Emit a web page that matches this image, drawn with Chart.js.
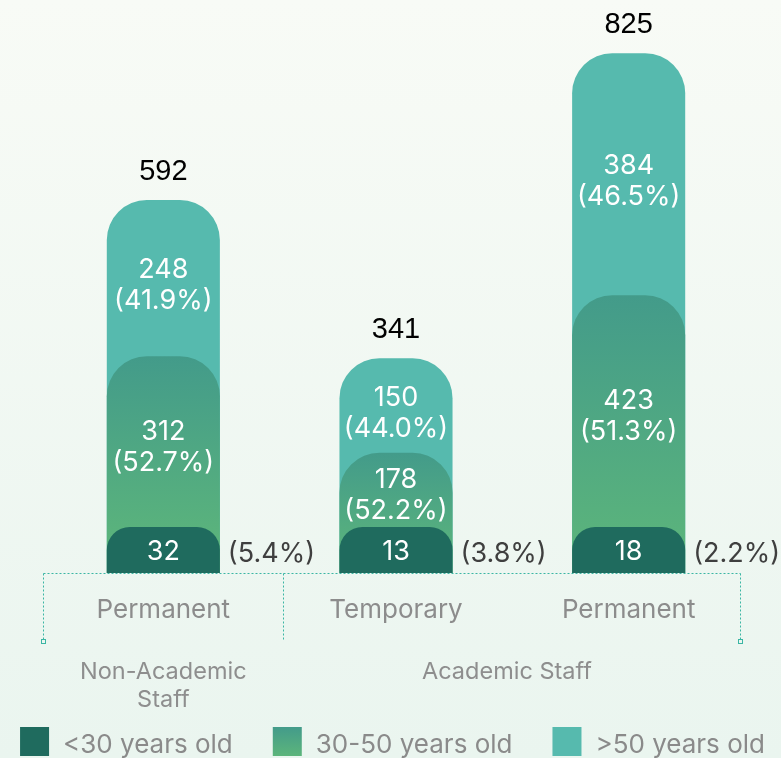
<!DOCTYPE html>
<html>
<head>
<meta charset="utf-8">
<script src="https://cdn.jsdelivr.net/npm/chart.js@4.4.1/dist/chart.umd.min.js"></script>
<style>
  html, body { margin: 0; padding: 0; background: #f1f8f2; }
  #wrap { width: 781px; height: 758px; position: relative; }
</style>
</head>
<body>
<div id="wrap"><canvas id="staffChart"></canvas></div>
<script>
// Staff headcount by contract type and age band
const categories = ['Permanent', 'Temporary', 'Permanent'];
const groupLabels = [['Non-Academic', 'Staff'], ['Academic Staff']];
const seriesNames = ['<30 years old', '30-50 years old', '>50 years old'];
const under30 = [32, 13, 18];
const age30to50 = [312, 178, 423];
const over50 = [248, 150, 384];

const totals = categories.map((_, i) => under30[i] + age30to50[i] + over50[i]);
const upTo50 = categories.map((_, i) => under30[i] + age30to50[i]);
const pct = (v, i) => (v / totals[i] * 100).toFixed(1) + '%';

const DARK = '#1f6b5e';
const TEAL = '#56baae';
const MID_TOP = '#439b8a';
const MID_BOTTOM = '#5cb57b';
const LINE = '#3bb6a4';
const FONT = 'Inter, "Noto Sans", sans-serif';

function midGradient(ctx, top, bottom) {
  const g = ctx.createLinearGradient(0, top, 0, bottom);
  g.addColorStop(0, MID_TOP);
  g.addColorStop(1, MID_BOTTOM);
  return g;
}

const backdrop = {
  id: 'backdrop',
  beforeDraw(chart) {
    const { ctx, width, height } = chart;
    const g = ctx.createLinearGradient(0, 0, 0, height);
    g.addColorStop(0, '#f8fbf6');
    g.addColorStop(1, '#eaf5ef');
    ctx.save();
    ctx.fillStyle = g;
    ctx.fillRect(0, 0, width, height);
    ctx.restore();
  }
};

// dotted baseline with the group brackets, drawn under the bars
const brackets = {
  id: 'brackets',
  beforeDatasetsDraw(chart) {
    const { ctx, chartArea } = chart;
    const x = chart.scales.x;
    const p = categories.map((_, i) => x.getPixelForValue(i));
    const w = p[1] - p[0];
    const left = Math.round(p[0] - w / 2 - 4) + 0.5;
    const mid = Math.round((p[0] + p[1]) / 2 + 3) + 0.5;
    const right = Math.round(p[2] + w / 2 - 5) + 0.5;
    const y0 = chartArea.bottom + 0.5;
    const y1 = y0 + 68;
    ctx.save();
    ctx.strokeStyle = LINE;
    ctx.lineWidth = 1;
    ctx.setLineDash([2, 2]);
    ctx.beginPath();
    ctx.moveTo(left, y0); ctx.lineTo(right, y0);
    [left, mid, right].forEach(px => { ctx.moveTo(px, y0); ctx.lineTo(px, y1); });
    ctx.stroke();
    ctx.setLineDash([]);
    ctx.strokeRect(left - 2, y1 - 2, 4, 4);
    ctx.strokeRect(right - 2, y1 - 2, 4, 4);

    ctx.fillStyle = '#8e8e8e';
    ctx.font = '23.5px ' + FONT;
    ctx.textAlign = 'center';
    ctx.textBaseline = 'middle';
    groupLabels[0].forEach((t, k) => ctx.fillText(t, p[0], y0 + 98 + k * 28));
    groupLabels[1].forEach((t, k) => ctx.fillText(t, (mid + right) / 2 - 5, y0 + 98 + k * 28));
    ctx.restore();
  }
};

const barLabels = {
  id: 'barLabels',
  afterDatasetsDraw(chart) {
    const { ctx } = chart;
    const y = chart.scales.y;
    const bottom = chart.getDatasetMeta(0).data;
    const middle = chart.getDatasetMeta(1).data;
    const top = chart.getDatasetMeta(2).data;
    ctx.save();
    ctx.textAlign = 'center';
    ctx.textBaseline = 'middle';
    categories.forEach((_, i) => {
      // totals above each bar
      ctx.fillStyle = '#000';
      ctx.font = '29px "Liberation Sans", Arial, sans-serif';
      ctx.fillText(String(totals[i]), top[i].x, top[i].y - 28);

      ctx.fillStyle = '#fff';
      ctx.font = '27px ' + FONT;
      const topMid = (top[i].y + y.getPixelForValue(upTo50[i])) / 2 + 7;
      ctx.fillText(String(over50[i]), top[i].x, topMid - 15);
      ctx.fillText('(' + pct(over50[i], i) + ')', top[i].x, topMid + 16);

      // middle band label sits in the visible part above the <30 block
      const midMid = (middle[i].y + bottom[i].y) / 2 + 5;
      ctx.fillText(String(age30to50[i]), middle[i].x, midMid - 15);
      ctx.fillText('(' + pct(age30to50[i], i) + ')', middle[i].x, midMid + 16);

      const b = bottom[i];
      ctx.fillText(String(under30[i]), b.x, (b.y + b.base) / 2 + 2);
      ctx.fillStyle = '#3f3f3f';
      ctx.textAlign = 'left';
      ctx.fillText('(' + pct(under30[i], i) + ')', b.x + b.width / 2 + 8, (b.y + b.base) / 2 + 4);
      ctx.textAlign = 'center';
    });
    ctx.restore();
  }
};

// legend row along the bottom edge
const legendRow = {
  id: 'legendRow',
  afterDraw(chart) {
    const { ctx, width } = chart;
    const box = 29, gap = 14, spacing = 40, yTop = 727;
    ctx.save();
    ctx.font = '26px ' + FONT;
    const widths = seriesNames.map(t => ctx.measureText(t).width);
    const rowW = widths.reduce((s, w) => s + box + gap + w, 0) + spacing * (seriesNames.length - 1);
    let x = (width - rowW) / 2 + 2;
    const fills = [DARK, midGradient(ctx, yTop, yTop + box), TEAL];
    ctx.textBaseline = 'middle';
    seriesNames.forEach((t, i) => {
      ctx.fillStyle = fills[i];
      ctx.fillRect(x, yTop, box, box);
      ctx.fillStyle = '#8a8a8a';
      ctx.fillText(t, x + box + gap, yTop + box / 2 + 4);
      x += box + gap + widths[i] + spacing;
    });
    ctx.restore();
  }
};

new Chart(document.getElementById('staffChart'), {
  type: 'bar',
  data: {
    labels: categories,
    datasets: [{
      label: seriesNames[0],
      data: under30,
      backgroundColor: DARK,
      minBarLength: 46
    }, {
      label: seriesNames[1],
      data: upTo50,
      backgroundColor: (c) => {
        const chart = c.chart;
        if (!chart.chartArea || c.type !== 'data') return MID_BOTTOM;
        const y = chart.scales.y;
        return midGradient(chart.ctx, y.getPixelForValue(upTo50[c.dataIndex]), y.getPixelForValue(under30[c.dataIndex]));
      }
    }, {
      label: seriesNames[2],
      data: totals,
      backgroundColor: TEAL
    }]
  },
  options: {
    responsive: true,
    maintainAspectRatio: false,
    animation: false,
    layout: { padding: { left: 47, right: 36, top: 6, bottom: 0 } },
    datasets: {
      bar: {
        grouped: false,
        borderRadius: 40,
        borderSkipped: 'start',
        barPercentage: 0.486,
        categoryPercentage: 1
      }
    },
    plugins: {
      legend: { display: false },
      tooltip: { enabled: false }
    },
    scales: {
      x: {
        grid: { display: false },
        border: { display: false },
        ticks: {
          color: '#8c8c8c',
          font: { family: FONT, size: 26 },
          padding: 14
        },
        afterFit(scale) { scale.height = 185; }
      },
      y: {
        display: false,
        min: 0,
        max: 900
      }
    }
  },
  plugins: [backdrop, brackets, barLabels, legendRow]
});
</script>
</body>
</html>
